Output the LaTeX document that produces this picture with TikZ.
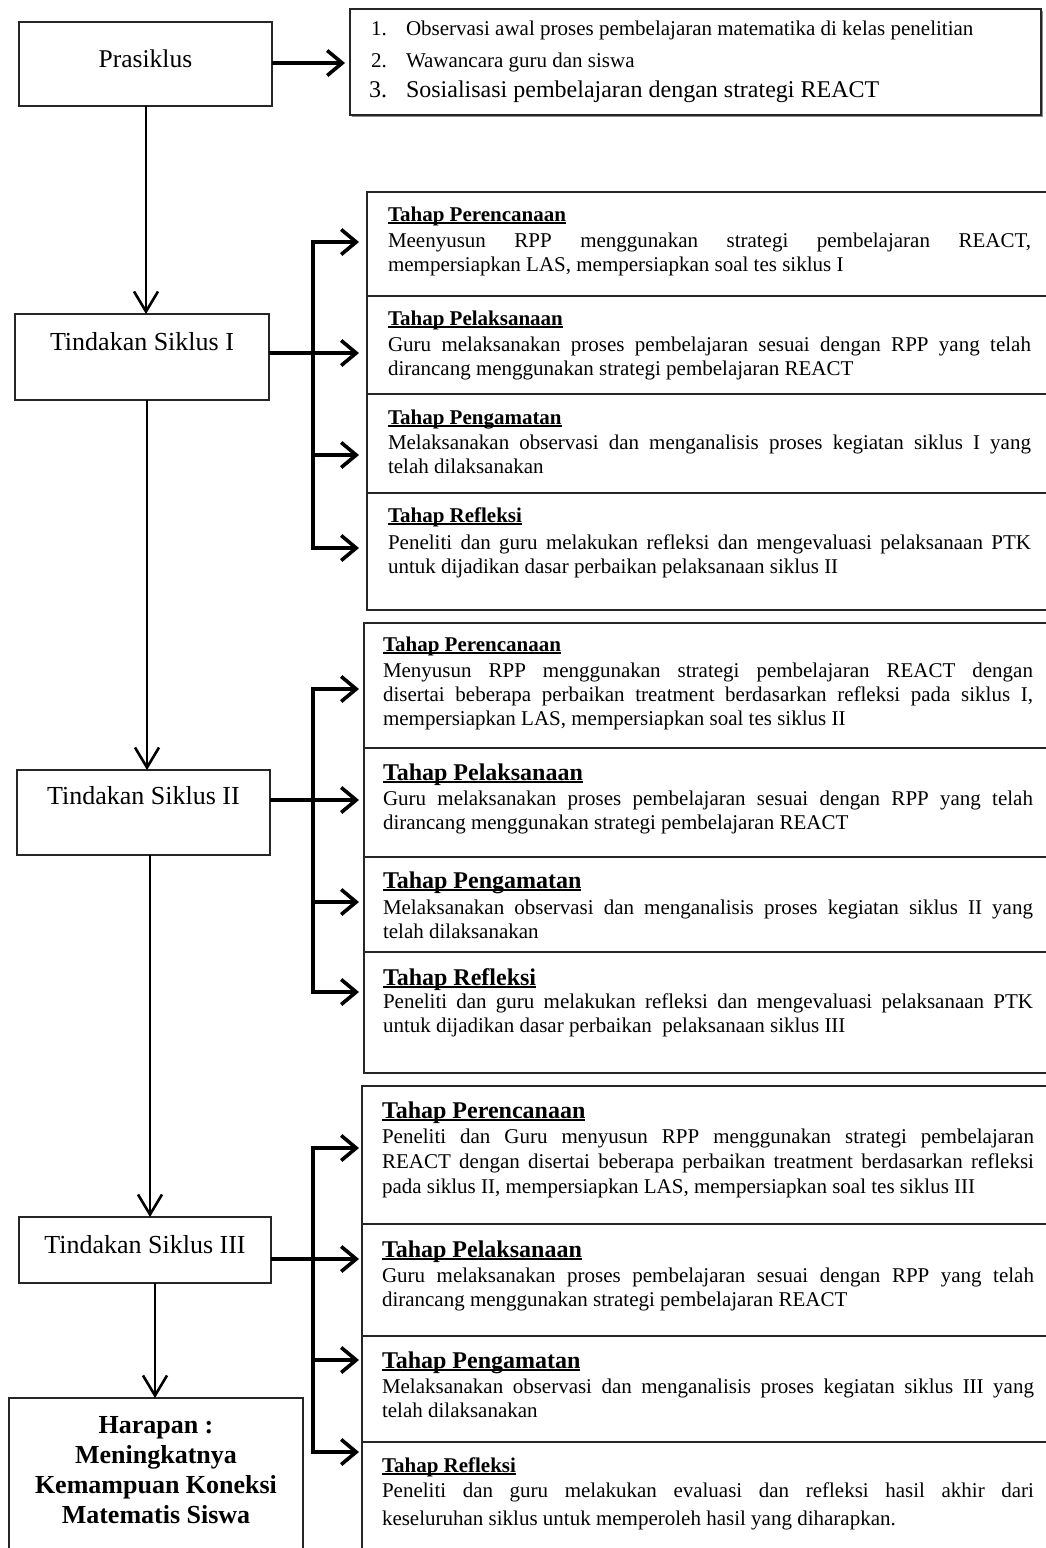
\documentclass[tikz,border=0pt]{standalone}
\usepackage{fontspec}
\setmainfont{Liberation Serif}
\usetikzlibrary{arrows.meta}
\newsavebox{\hdrbox}
\newcommand{\ulh}[1]{\sbox{\hdrbox}{#1}\rlap{\rule[-2.6pt]{\wd\hdrbox}{1.6pt}}\usebox{\hdrbox}}
\newcommand{\jl}[1]{\makebox[\linewidth][s]{#1}\par}
\tikzset{
  box/.style={draw=black!85, line width=1.3pt, inner sep=0pt, outer sep=0pt},
  txt/.style={inner sep=0pt, outer sep=0pt},
  hdr/.style={txt, anchor=base west, font=\fontsize{21}{24}\selectfont\bfseries},
  hdrL/.style={txt, anchor=base west, font=\fontsize{24}{28}\selectfont\bfseries},
  body/.style={txt, anchor=base west, font=\fontsize{21}{24}\selectfont},
  harrow/.style={line width=3.6pt, -{Straight Barb[length=15pt,width=25pt]}},
  harrowtwo/.style={line width=3.6pt, line join=miter, {Straight Barb[length=15pt,width=25pt]}-{Straight Barb[length=15pt,width=25pt]}},
  varrow/.style={line width=2.6pt, -{Straight Barb[length=20pt,width=24pt]}}
}
\begin{document}
\begin{tikzpicture}[x=1pt,y=-1pt]
\useasboundingbox (0,0) rectangle (1046,1548);
\clip (0,0) rectangle (1046,1548);
\fill[white] (0,0) rectangle (1046,1548);

% ---------- left column boxes ----------
\node[box, minimum width=253pt, minimum height=84pt] (pras) at (145.5,64) {};
\node[txt, anchor=base, font=\fontsize{25.5}{30}\selectfont] (prasT) at (145.5,67) {Prasiklus};

\node[box, minimum width=254pt, minimum height=86pt] (tI) at (142,357) {};
\node[txt, anchor=base, font=\fontsize{26}{30}\selectfont] (tIT) at (142,350) {Tindakan Siklus I};

\node[box, minimum width=253pt, minimum height=85pt] (tII) at (143.5,812.5) {};
\node[txt, anchor=base, font=\fontsize{26}{30}\selectfont] (tIIT) at (143.5,804) {Tindakan Siklus II};

\node[box, minimum width=252pt, minimum height=66pt] (tIII) at (145,1250) {};
\node[txt, anchor=base, font=\fontsize{26}{30}\selectfont] (tIIIT) at (145,1253) {Tindakan Siklus III};

\node[box, minimum width=294pt, minimum height=162pt] (harap) at (156,1479) {};
\node[txt, anchor=base, font=\fontsize{26}{30.3}\selectfont\bfseries] (harapT) at (156,1433)
  {\parbox[t]{290pt}{\centering Harapan :\\ Meningkatnya\\ Kemampuan Koneksi\\ Matematis Siswa}};

% ---------- top list box ----------
\fill[black!45] (352,11) rectangle (1043,117);
\node[box, fill=white, minimum width=691pt, minimum height=106pt] (list) at (695.5,62) {};
\node[txt, anchor=base west, font=\fontsize{21}{24}\selectfont] (l1n) at (371,35) {1.};
\node[txt, anchor=base west, font=\fontsize{21}{24}\selectfont] (l1t) at (406,35) {Observasi awal proses pembelajaran matematika di kelas penelitian};
\node[txt, anchor=base west, font=\fontsize{21}{24}\selectfont] (l2n) at (371,67) {2.};
\node[txt, anchor=base west, font=\fontsize{21}{24}\selectfont] (l2t) at (406,67) {Wawancara guru dan siswa};
\node[txt, anchor=base west, font=\fontsize{24}{28}\selectfont] (l3n) at (369,97) {3.};
\node[txt, anchor=base west, font=\fontsize{24}{28}\selectfont] (l3t) at (406,97) {Sosialisasi pembelajaran dengan strategi REACT};

% ---------- Siklus I sections ----------
\node[box, minimum width=685pt, minimum height=104pt] (s1a) at (709.5,244) {};
\node[box, minimum width=685pt, minimum height=98pt] (s1b) at (709.5,345) {};
\node[box, minimum width=685pt, minimum height=99pt] (s1c) at (709.5,443.5) {};
\node[box, minimum width=685pt, minimum height=117pt] (s1d) at (709.5,551.5) {};

\node[hdr] (s1aH) at (388,221) {\ulh{Tahap Perencanaan}};
\node[body] (s1aB) at (388,247) {\parbox[t]{643pt}{\jl{Meenyusun RPP menggunakan strategi pembelajaran REACT,}mempersiapkan LAS, mempersiapkan soal tes siklus I}};
\node[hdr] (s1bH) at (388,325) {\ulh{Tahap Pelaksanaan}};
\node[body] (s1bB) at (388,351) {\parbox[t]{643pt}{\jl{Guru melaksanakan proses pembelajaran sesuai dengan RPP yang telah}dirancang menggunakan strategi pembelajaran REACT}};
\node[hdr] (s1cH) at (388,424) {\ulh{Tahap Pengamatan}};
\node[body] (s1cB) at (388,449) {\parbox[t]{643pt}{\jl{Melaksanakan observasi dan menganalisis proses kegiatan siklus I yang}telah dilaksanakan}};
\node[hdr] (s1dH) at (388,522) {\ulh{Tahap Refleksi}};
\node[body] (s1dB) at (388,549) {\parbox[t]{643pt}{\jl{Peneliti dan guru melakukan refleksi dan mengevaluasi pelaksanaan PTK}untuk dijadikan dasar perbaikan pelaksanaan siklus II}};

% ---------- Siklus II sections ----------
\node[box, minimum width=688pt, minimum height=125pt] (s2a) at (708,685.5) {};
\node[box, minimum width=688pt, minimum height=109pt] (s2b) at (708,802.5) {};
\node[box, minimum width=688pt, minimum height=95pt] (s2c) at (708,904.5) {};
\node[box, minimum width=688pt, minimum height=121pt] (s2d) at (708,1012.5) {};

\node[hdr] (s2aH) at (383,651) {\ulh{Tahap Perencanaan}};
\node[body] (s2aB) at (383,677) {\parbox[t]{650pt}{\jl{Menyusun RPP menggunakan strategi pembelajaran REACT dengan}\jl{disertai beberapa perbaikan treatment berdasarkan refleksi pada siklus I,}mempersiapkan LAS, mempersiapkan soal tes siklus II}};
\node[hdrL] (s2bH) at (383,780) {\ulh{Tahap Pelaksanaan}};
\node[body] (s2bB) at (383,805) {\parbox[t]{650pt}{\jl{Guru melaksanakan proses pembelajaran sesuai dengan RPP yang telah}dirancang menggunakan strategi pembelajaran REACT}};
\node[hdrL] (s2cH) at (383,888) {\ulh{Tahap Pengamatan}};
\node[body] (s2cB) at (383,914) {\parbox[t]{650pt}{\jl{Melaksanakan observasi dan menganalisis proses kegiatan siklus II yang}telah dilaksanakan}};
\node[hdrL] (s2dH) at (383,985) {\ulh{Tahap Refleksi}};
\node[body] (s2dB) at (383,1008) {\parbox[t]{650pt}{\jl{Peneliti dan guru melakukan refleksi dan mengevaluasi pelaksanaan PTK}untuk dijadikan dasar perbaikan\ \ pelaksanaan siklus III}};

% ---------- Siklus III sections ----------
\node[box, minimum width=690pt, minimum height=138pt] (s3a) at (707,1155) {};
\node[box, minimum width=690pt, minimum height=112pt] (s3b) at (707,1280) {};
\node[box, minimum width=690pt, minimum height=106pt] (s3c) at (707,1389) {};
\node[box, minimum width=690pt, minimum height=118pt] (s3d) at (707,1501) {};

\node[hdrL] (s3aH) at (382,1118) {\ulh{Tahap Perencanaan}};
\node[body, font=\fontsize{21}{25}\selectfont] (s3aB) at (382,1143) {\parbox[t]{652pt}{\jl{Peneliti dan Guru menyusun RPP menggunakan strategi pembelajaran}\jl{REACT dengan disertai beberapa perbaikan treatment berdasarkan refleksi}pada siklus II, mempersiapkan LAS, mempersiapkan soal tes siklus III}};
\node[hdrL] (s3bH) at (382,1257) {\ulh{Tahap Pelaksanaan}};
\node[body] (s3bB) at (382,1282) {\parbox[t]{652pt}{\jl{Guru melaksanakan proses pembelajaran sesuai dengan RPP yang telah}dirancang menggunakan strategi pembelajaran REACT}};
\node[hdrL] (s3cH) at (382,1368) {\ulh{Tahap Pengamatan}};
\node[body] (s3cB) at (382,1393) {\parbox[t]{652pt}{\jl{Melaksanakan observasi dan menganalisis proses kegiatan siklus III yang}telah dilaksanakan}};
\node[hdr] (s3dH) at (382,1472) {\ulh{Tahap Refleksi}};
\node[body, font=\fontsize{21}{28}\selectfont] (s3dB) at (382,1497) {\parbox[t]{652pt}{\jl{Peneliti dan guru melakukan evaluasi dan refleksi hasil akhir dari}keseluruhan siklus untuk memperoleh hasil yang diharapkan.}};

% ---------- connectors ----------
\coordinate (pa) at (345,63);
\draw[harrow] (pras.east |- pa) -- (pa);

\coordinate (v1) at (146,0);
\coordinate (v2) at (147,0);
\coordinate (v3) at (150,0);
\coordinate (v4) at (155,0);
\draw[varrow] (pras.south -| v1) -- (tI.north -| v1);
\draw[varrow] (tI.south -| v2) -- (tII.north -| v2);
\draw[varrow] (tII.south -| v3) -- (tIII.north -| v3);
\draw[varrow] (tIII.south -| v4) -- (harap.north -| v4);

% branch I
\coordinate (b1t) at (313,242);
\coordinate (b1b) at (313,548);
\coordinate (e1a) at (359,242);
\coordinate (e1b) at (359,353);
\coordinate (e1c) at (359,455);
\coordinate (e1d) at (359,548);
\draw[harrowtwo] (e1a) -- (b1t) -- (b1b) -- (e1d);
\draw[harrow] (tI.east |- e1b) -- (e1b);
\draw[harrow] (b1t |- e1c) -- (e1c);

% branch II
\coordinate (b2t) at (313,689);
\coordinate (b2b) at (313,992);
\coordinate (e2a) at (359,689);
\coordinate (e2b) at (359,800);
\coordinate (e2c) at (359,902);
\coordinate (e2d) at (359,992);
\draw[harrowtwo] (e2a) -- (b2t) -- (b2b) -- (e2d);
\draw[harrow] (tII.east |- e2b) -- (e2b);
\draw[harrow] (b2t |- e2c) -- (e2c);

% branch III
\coordinate (b3t) at (313,1148);
\coordinate (b3b) at (313,1452);
\coordinate (e3a) at (359,1148);
\coordinate (e3b) at (359,1259);
\coordinate (e3c) at (359,1360);
\coordinate (e3d) at (359,1452);
\draw[harrowtwo] (e3a) -- (b3t) -- (b3b) -- (e3d);
\draw[harrow] (tIII.east |- e3b) -- (e3b);
\draw[harrow] (b3t |- e3c) -- (e3c);
\end{tikzpicture}
\end{document}
